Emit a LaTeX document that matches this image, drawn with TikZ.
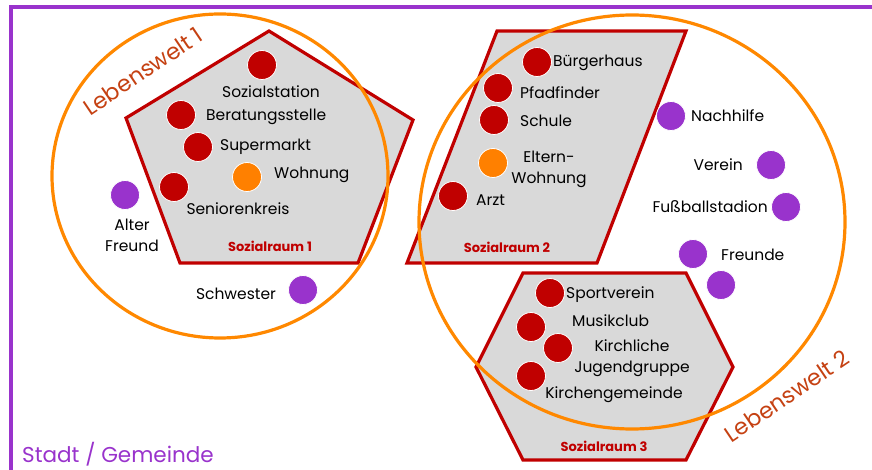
\documentclass[tikz,border=0pt]{standalone}
\usepackage{fontspec}
\setmainfont{Poppins}
\definecolor{dred}{RGB}{192,0,0}
\definecolor{gfill}{RGB}{217,217,217}
\definecolor{lorange}{RGB}{255,128,0}
\definecolor{ring}{RGB}{255,136,0}
\definecolor{purp}{RGB}{153,51,204}
\definecolor{rust}{RGB}{197,65,18}
\begin{document}
\begin{tikzpicture}[x=1pt,y=-1pt,
  dot/.style={circle,minimum size=29pt,inner sep=0pt,draw=white,line width=0.8pt},
  rdot/.style={dot,fill=dred},
  odot/.style={dot,fill=lorange},
  pdot/.style={dot,fill=purp},
  lbl/.style={font=\fontsize{15.5}{21}\selectfont,inner sep=0pt},
  raum/.style={draw=dred,line width=3.2pt,fill=gfill,line join=miter},
  welt/.style={draw=ring,line width=3.2pt},
  rlbl/.style={font=\bfseries\fontsize{13}{15}\selectfont,text=dred,inner sep=0pt},
  wlbl/.style={font=\fontsize{22.5}{26}\selectfont,text=rust,rotate=34,inner sep=0pt}]
\useasboundingbox (0,0) rectangle (872,470);
% frame
\draw[purp,line width=3.2pt] (11,480) -- (11,7) -- (880,7);
% Sozialräume
\draw[raum] (269,31) -- (413,120) -- (358,263) -- (180,263) -- (126,118) -- cycle;
\draw[raum] (497,31) -- (686,31) -- (597,263) -- (407,263) -- cycle;
\draw[raum] (523,273) -- (686,273) -- (733,367) -- (686,460) -- (523,460) -- (476,367) -- cycle;
% Lebenswelten
\draw[welt] (220,176) ellipse [x radius=168, y radius=162];
\draw[welt] (632,222) ellipse [x radius=213, y radius=207];
% labels of areas
\node[rlbl] (sr1) at (270,246) {Sozialraum 1};
\node[rlbl] (sr2) at (507,247) {Sozialraum 2};
\node[rlbl] (sr3) at (604,446) {Sozialraum 3};
\node[wlbl] (lw1) at (143,71) {Lebenswelt 1};
\node[wlbl] (lw2) at (787,396) {Lebenswelt 2};
\node[font=\fontsize{21.5}{24}\selectfont,text=purp,inner sep=0pt,anchor=west] (stadt) at (22,454) {Stadt / Gemeinde};
% Lebenswelt 1 dots
\node[rdot] (d1) at (262,65) {};
\node[lbl] (t1) at (271,92) {Sozialstation};
\node[rdot] (d2) at (181,115) {};
\node[lbl,anchor=west] (t2) at (206,117) {Beratungsstelle};
\node[rdot] (d3) at (198,147) {};
\node[lbl,anchor=west] (t3) at (220,147) {Supermarkt};
\node[odot] (d4) at (247,177) {};
\node[lbl,anchor=west] (t4) at (274,175) {Wohnung};
\node[rdot] (d5) at (174,187) {};
\node[lbl] (t5) at (238,209) {Seniorenkreis};
\node[pdot] (d6) at (125,195) {};
\node[lbl,align=center] (t6) at (132,235) {Alter\\Freund};
\node[pdot] (d7) at (303,290) {};
\node[lbl] (t7) at (236,294) {Schwester};
% Lebenswelt 2 dots
\node[rdot] (e1) at (537,62) {};
\node[lbl,anchor=west] (u1) at (553,63) {Bürgerhaus};
\node[rdot] (e2) at (498,88) {};
\node[lbl,anchor=west] (u2) at (520,93) {Pfadfinder};
\node[rdot] (e3) at (494,120) {};
\node[lbl,anchor=west] (u3) at (520,121) {Schule};
\node[odot] (e4) at (493,163) {};
\node[lbl,align=center] (u4) at (549,169) {Eltern-\\Wohnung};
\node[rdot] (e5) at (453,196) {};
\node[lbl,anchor=west] (u5) at (476,200) {Arzt};
\node[pdot] (e6) at (671,116) {};
\node[lbl,anchor=west] (u6) at (691,116) {Nachhilfe};
\node[pdot] (e7) at (771,165) {};
\node[lbl,anchor=east] (u7) at (743,165) {Verein};
\node[pdot] (e8) at (786,207) {};
\node[lbl,anchor=east] (u8) at (768,207) {Fußballstadion};
\node[pdot] (e9) at (693,254) {};
\node[pdot] (e10) at (721,285) {};
\node[lbl,anchor=west] (u9) at (721,255) {Freunde};
% Sozialraum 3 dots
\node[rdot] (f1) at (550,293) {};
\node[lbl,anchor=west] (v1) at (566,295) {Sportverein};
\node[rdot] (f2) at (531,327) {};
\node[lbl,anchor=west] (v2) at (572,321) {Musikclub};
\node[rdot] (f3) at (558,348) {};
\node[lbl,align=center] (v3) at (632,358) {Kirchliche\\Jugendgruppe};
\node[rdot] (f4) at (531,376) {};
\node[lbl] (v4) at (614,395) {Kirchengemeinde};
\end{tikzpicture}
\end{document}
